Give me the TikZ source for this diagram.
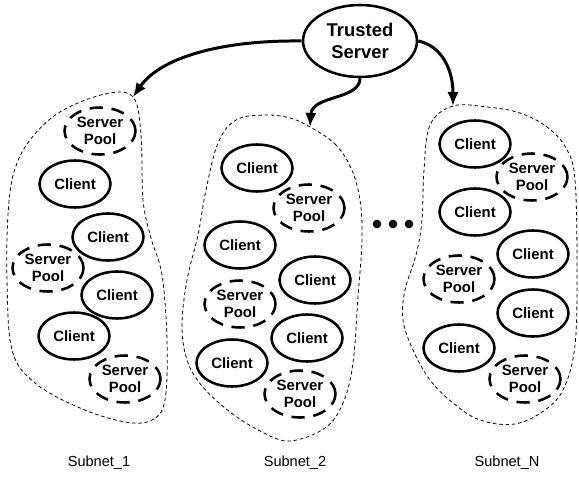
\documentclass[tikz,border=0pt]{standalone}
\usepackage{fontspec}
\setmainfont{Liberation Sans}
\usetikzlibrary{arrows.meta,shapes.geometric}

\tikzset{
  client/.style={draw,ellipse,line width=1.45pt,minimum width=1.42cm,minimum height=0.94cm,inner sep=0pt,
    font=\fontsize{8.5}{10}\selectfont\bfseries},
  pool/.style={client,dash pattern=on 7.5pt off 5pt,align=center},
  trusted/.style={draw,ellipse,line width=1.45pt,minimum width=2.28cm,minimum height=1.44cm,inner sep=0pt,
    align=center,font=\fontsize{10.5}{12.5}\selectfont\bfseries},
  region/.style={line width=0.45pt,dash pattern=on 2pt off 1.6pt},
  link/.style={line width=1.7pt,-{Latex[length=8pt,width=6.5pt]}},
  netlabel/.style={font=\fontsize{8.3}{10}\selectfont}
}

\begin{document}
\begin{tikzpicture}[x=0.02cm,y=-0.02cm]
  \useasboundingbox (0,0) rectangle (579,477);

  % subnet regions
  \draw[region] plot[smooth cycle,tension=0.6] coordinates {(133,97) (141,135) (143,200) (151,238) (162,275) (167,340)
    (165,400) (152,420) (125,422) (80,408) (35,383) (12,350) (7,280) (8,215) (14,172) (30,140) (60,112) (105,94)};
  \draw[region] plot[smooth cycle,tension=0.6] coordinates {(310,127) (335,144) (351,168) (360,200) (362,240) (358,297)
    (353,363) (343,403) (325,428) (290,441) (262,432) (230,412) (202,386) (187,360) (182,325) (187,280) (198,235)
    (206,190) (218,143) (236,120) (265,115) (290,118)};
  \draw[region] plot[smooth cycle,tension=0.6] coordinates {(453,106) (487,107) (520,113) (547,127) (566,148) (575,180)
    (577,270) (575,345) (564,388) (545,410) (515,424) (480,420) (453,403) (430,380) (413,350) (403,320) (405,290)
    (416,255) (422,220) (424,170) (430,125)};
  \coordinate (top1) at (133,97);
  \coordinate (top2) at (310,127);
  \coordinate (topN) at (453,106);

  % trusted server
  \node[trusted] (ts) at (360,41) {Trusted\\Server};

  % subnet 1
  \node[pool]   (p11) at (100,131) {Server\\Pool};
  \node[client] (c11) at (75,184) {Client};
  \node[client] (c12) at (108,237) {Client};
  \node[pool]   (p12) at (48,268) {Server\\Pool};
  \node[client] (c13) at (117,295) {Client};
  \node[client] (c14) at (74,336) {Client};
  \node[pool]   (p13) at (125,379) {Server\\Pool};

  % subnet 2
  \node[client] (c21) at (257,168) {Client};
  \node[pool]   (p21) at (309,208) {Server\\Pool};
  \node[client] (c22) at (240,245) {Client};
  \node[client] (c23) at (315,280) {Client};
  \node[pool]   (p22) at (240,304) {Server\\Pool};
  \node[client] (c24) at (307,338) {Client};
  \node[client] (c25) at (232,363) {Client};
  \node[pool]   (p23) at (300,394) {Server\\Pool};

  % subnet N
  \node[client] (cn1) at (475,144) {Client};
  \node[pool]   (pn1) at (532,177) {Server\\Pool};
  \node[client] (cn2) at (475,212) {Client};
  \node[client] (cn3) at (533,254) {Client};
  \node[pool]   (pn2) at (459,279) {Server\\Pool};
  \node[client] (cn4) at (533,313) {Client};
  \node[client] (cn5) at (459,348) {Client};
  \node[pool]   (pn3) at (525,379) {Server\\Pool};

  % dots
  \foreach \dx in {377,393,409}
    \fill (\dx,224) circle[radius=4.3];

  % links
  \draw[link] (ts.west) .. controls (220,40) and (160,58) .. (top1);
  \draw[link] (ts.south) .. controls (360,100) and (312,95) .. (top2);
  \draw[link] (ts.east) .. controls (442,46) and (453,70) .. (topN);

  % labels
  \node[netlabel] (l1) at (99,463) {Subnet\_1};
  \node[netlabel] (l2) at (295,463) {Subnet\_2};
  \node[netlabel] (ln) at (507,463) {Subnet\_N};
\end{tikzpicture}
\end{document}
